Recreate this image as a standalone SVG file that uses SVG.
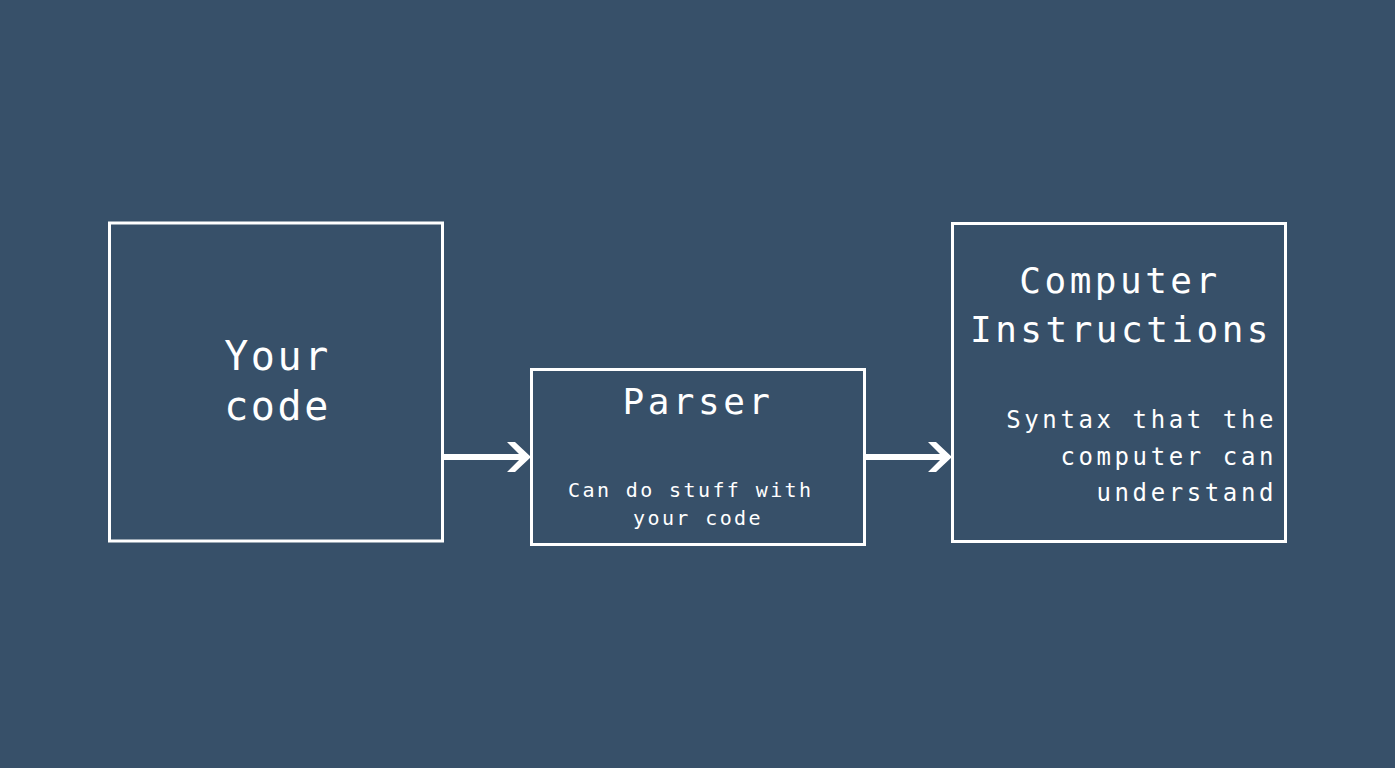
<svg xmlns="http://www.w3.org/2000/svg" width="1395" height="768" viewBox="0 0 1395 768">
<style>
.box{fill:none;stroke:#ffffff;stroke-width:3}
.t{fill:#ffffff;font-family:"DejaVu Sans Mono","Liberation Mono",monospace}
.big{font-size:36px;letter-spacing:3.5px;text-anchor:middle}
.huge{font-size:40px;letter-spacing:2.6px;text-anchor:middle}
.sm{font-size:20px;letter-spacing:2.4px}
.md{font-size:24px;letter-spacing:3.6px;text-anchor:end}
.ln{stroke:#ffffff;stroke-width:6;fill:none}
.hd{fill:#ffffff}
</style>
<rect width="1395" height="768" fill="#375069"/>
<g id="node-your-code">
<rect class="box" x="109.5" y="223" width="333" height="318"/>
<text class="t huge" x="277.5" y="370">Your</text>
<text class="t huge" x="277.5" y="420">code</text>
</g>
<g id="node-parser">
<rect class="box" x="531.5" y="369.5" width="333" height="175"/>
<text class="t big" x="698" y="414">Parser</text>
<text class="t sm" x="568" y="497">Can do stuff with</text>
<text class="t sm" x="633" y="525">your code</text>
</g>
<g id="node-computer-instructions">
<rect class="box" x="952.5" y="223.5" width="333" height="318"/>
<text class="t big" x="1120" y="293">Computer</text>
<text class="t big" x="1121" y="342">Instructions</text>
<text class="t md" x="1277" y="428">Syntax that the</text>
<text class="t md" x="1277" y="465">computer can</text>
<text class="t md" x="1277" y="501">understand</text>
</g>
<g id="connectors">
<line class="ln" x1="443" y1="457" x2="524" y2="457"/>
<polygon class="hd" points="507,442 515,442 531,457 515,472 507,472 522,457"/>
<line class="ln" x1="865" y1="457" x2="945" y2="457"/>
<polygon class="hd" points="928,442 936,442 952,457 936,472 928,472 943,457"/>
</g>
</svg>
